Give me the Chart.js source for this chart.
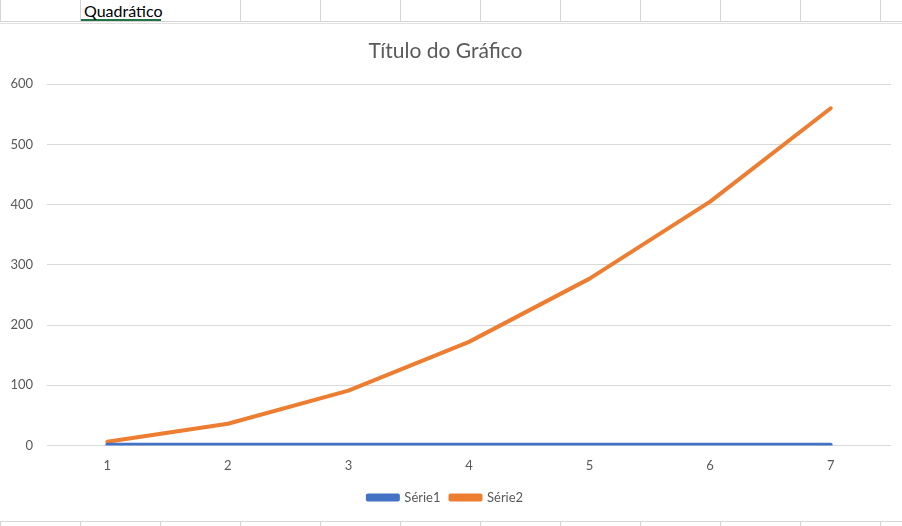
<!DOCTYPE html>
<html>
<head>
<meta charset="utf-8">
<script src="https://cdn.jsdelivr.net/npm/chart.js@4"></script>
<style>
  body { margin: 0; width: 902px; height: 526px; overflow: hidden; background: #fff; position: relative; font-family: Lato, "Open Sans", sans-serif; }
  .grid-top { position: absolute; left: 0; top: 0; width: 902px; height: 21px; border-bottom: 1px solid #d4d4d4; }
  .grid-top2 { position: absolute; left: 0; top: 23px; width: 902px; height: 0; border-top: 1px solid #e1e1e1; }
  .vline { position: absolute; width: 1px; background: #d4d4d4; }
  .cell-text { position: absolute; left: 84px; top: 1px; font-size: 16px; color: #000; z-index: 2; }
  .cell-sel { position: absolute; left: 80px; top: 19px; width: 81px; height: 2px; background: #217346; }
  .grid-bottom { position: absolute; left: 0; top: 521px; width: 902px; height: 0; border-top: 1px solid #d4d4d4; }
  #wrap { position: absolute; left: 0; top: 24px; width: 902px; height: 494px; }
</style>
</head>
<body>
<div class="grid-top"></div>
<div class="grid-top2"></div>
<div class="cell-text">Quadrático</div>
<div class="cell-sel"></div>
<div class="grid-bottom"></div>
<div id="wrap"><canvas id="grafico"></canvas></div>
<script>
// dados
const categorias = ['1', '2', '3', '4', '5', '6', '7'];
const serie1 = [1, 1, 1, 1, 1, 1, 1];
const serie2 = [6, 36, 91, 172, 277, 405, 560];
const ticksY = [0, 100, 200, 300, 400, 500, 600];

// linhas da planilha (topo e base); o texto da célula passa por cima da linha em 160
for (let x = 0; x <= 880; x += 80) {
    if (x !== 160) {
        const top = document.createElement('div');
        top.className = 'vline';
        top.style.left = x + 'px'; top.style.top = '0px'; top.style.height = '22px';
        document.body.appendChild(top);
    }
    const bot = document.createElement('div');
    bot.className = 'vline';
    bot.style.left = x + 'px'; bot.style.top = '521px'; bot.style.height = '5px';
    document.body.appendChild(bot);
}

const cinza = '#595959';
const fonte = 'Lato, "Open Sans", sans-serif';

new Chart(document.getElementById('grafico').getContext('2d'), {
    type: 'line',
    data: {
        labels: categorias,
        datasets: [
            {
                label: 'Série1',
                data: serie1,
                borderColor: '#4472C4',
                backgroundColor: '#4472C4',
                borderWidth: 4,
                pointRadius: 0,
                borderCapStyle: 'round',
                borderJoinStyle: 'round',
                tension: 0
            },
            {
                label: 'Série2',
                data: serie2,
                borderColor: '#ED7D31',
                backgroundColor: '#ED7D31',
                borderWidth: 4,
                pointRadius: 0,
                borderCapStyle: 'round',
                borderJoinStyle: 'round',
                tension: 0
            }
        ]
    },
    options: {
        responsive: true,
        maintainAspectRatio: false,
        animation: false,
        layout: { padding: { left: 0, right: 11, top: 0, bottom: 4 } },
        scales: {
            x: {
                offset: true,
                afterFit: (scale) => { scale.height = scale.height - 6; },
                grid: { display: false, drawTicks: false },
                border: { display: false },
                ticks: { color: cinza, padding: 13, font: { family: fonte, size: 13 } }
            },
            y: {
                min: 0,
                max: 600,
                afterBuildTicks: (scale) => { scale.ticks = ticksY.map(v => ({ value: v })); },
                afterFit: (scale) => { scale.width = 47; },
                grid: { color: '#d9d9d9', drawTicks: false },
                border: { display: false },
                ticks: { color: cinza, padding: 14, font: { family: fonte, size: 13 } }
            }
        },
        plugins: {
            legend: {
                position: 'bottom',
                labels: {
                    color: cinza,
                    boxWidth: 30,
                    boxHeight: 4,
                    padding: 10,
                    font: { family: fonte, size: 13 }
                }
            },
            title: {
                display: true,
                text: 'Título do Gráfico',
                color: cinza,
                padding: { top: 15, bottom: 20 },
                font: { family: fonte, size: 21, weight: 'normal' }
            },
            tooltip: { enabled: false }
        }
    }
});
</script>
</body>
</html>
